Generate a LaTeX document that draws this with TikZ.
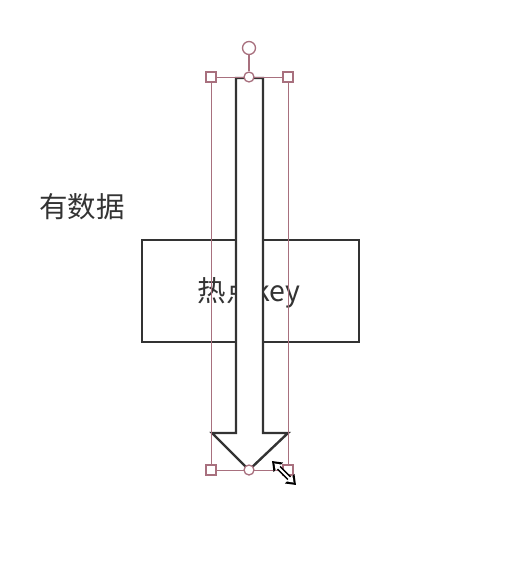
\documentclass[tikz,border=0pt]{standalone}
\usepackage{fontspec}
\setmainfont{Noto Sans CJK SC}
\usetikzlibrary{arrows.meta,calc}
\definecolor{txt}{HTML}{333333}
\definecolor{sel}{HTML}{A8707E}
\begin{document}
\begin{tikzpicture}[x=1pt,y=-1pt,
  lbl/.style={font=\fontsize{28.5}{32}\selectfont, text=txt, inner sep=0pt},
  hsq/.style={draw=sel, fill=white, line width=1.3pt, minimum size=10pt, inner sep=0pt, rectangle},
  hci/.style={draw=sel, fill=white, line width=1.3pt, circle, minimum size=10pt, inner sep=0pt},
  shape1/.style={draw=txt, line width=2.4pt, fill=white, line join=miter}]
\useasboundingbox (0,0) rectangle (508,578);
% labels
\node[lbl] (t1) at (82,207) {有数据};
\node[shape1, minimum width=217pt, minimum height=102pt, anchor=north west] (box) at (141,239) {};
\node[lbl] (t2) at (249,293) {热点key};
% arrow shape
\draw[shape1] (236,78) -- (263,78) -- (263,433) -- (288,433) -- (249,470) -- (212,433) -- (236,433) -- cycle;
% selection frame
\coordinate (tl) at (211,77);
\coordinate (tr) at (288,77);
\coordinate (bl) at (211,470);
\coordinate (br) at (288,470);
\draw[sel, line width=0.9pt] (tl) rectangle (br);
\node[hci, minimum size=13pt] (rot) at (249,48) {};
\node[hci] (tc) at (249,77) {};
\draw[sel, line width=1.3pt] (rot) -- (tc);
\node[hci] (bc) at (249,470) {};
\node[hsq] (htl) at (tl) {};
\node[hsq] (htr) at (tr) {};
\node[hsq] (hbl) at (bl) {};
\node[hsq] (hbr) at (br) {};
% resize cursor
\coordinate (c1) at (272,461);
\coordinate (c2) at (296,485);
\draw[black, line width=5pt, {Triangle[length=9pt,width=13pt]}-{Triangle[length=9pt,width=13pt]}] (c1) -- (c2);
\draw[white, line width=2pt, {Triangle[length=6pt,width=8pt]}-{Triangle[length=6pt,width=8pt]}] ($(c1)!0.1!(c2)$) -- ($(c1)!0.9!(c2)$);
\end{tikzpicture}
\end{document}
